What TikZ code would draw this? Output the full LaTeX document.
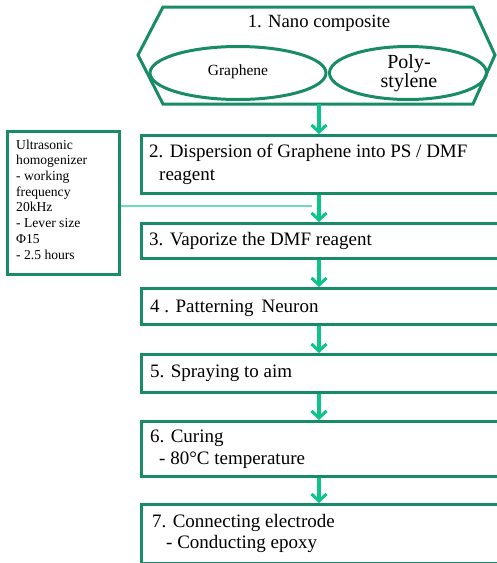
\documentclass[tikz,border=0pt]{standalone}
\usepackage{fontspec}
\setmainfont{Liberation Serif}
\usetikzlibrary{arrows.meta,shapes.geometric}
\definecolor{boxgreen}{RGB}{24,140,102}
\definecolor{arrowgreen}{RGB}{10,196,140}
\definecolor{linegreen}{RGB}{110,220,185}
\begin{document}
\begin{tikzpicture}[x=1pt,y=-1pt,
  box/.style={draw=boxgreen, line width=3pt, rectangle, inner sep=0pt, anchor=north west, minimum width=385},
  oval/.style={draw=boxgreen, line width=3pt, ellipse, inner sep=0pt},
  flow/.style={draw=arrowgreen, line width=3.5pt, -{Straight Barb[length=7pt,width=15pt,line width=3pt]}},
  maintext/.style={anchor=base west, inner sep=0pt, font=\fontsize{19}{22}\selectfont},
  sidetext/.style={anchor=base west, inner sep=0pt, align=left, font=\fontsize{13.6}{15.7}\selectfont}]
\useasboundingbox (0,0) rectangle (496,563);

% hexagon
\coordinate (h1) at (163,7);
\coordinate (h2) at (473,7);
\coordinate (h3) at (495,55);
\coordinate (h4) at (473,104);
\coordinate (h5) at (163,104);
\coordinate (h6) at (138,55);
\coordinate (hexbot) at (319,104);
\draw[boxgreen, line width=3pt, line join=miter] (h1) -- (h2) -- (h3) -- (h4) -- (h5) -- (h6) -- cycle;
\node[anchor=base, inner sep=0pt, font=\fontsize{18.7}{21}\selectfont] (t1) at (319,27) {1. Nano composite};
\node[oval, minimum width=176, minimum height=53] (e1) at (238,73) {};
\node[font=\fontsize{15.5}{17}\selectfont, inner sep=0pt] (g) at (238,72) {Graphene};
\node[oval, minimum width=157, minimum height=53] (e2) at (408,73) {};
\node[font=\fontsize{20}{19}\selectfont, inner sep=0pt, align=center] (ps) at (409,73) {Poly-\\stylene};

% boxes
\node[box, minimum height=58] (b2) at (140,134) {};
\node[box, minimum height=35] (b3) at (140,222) {};
\node[box, minimum height=36] (b4) at (140,287) {};
\node[box, minimum height=38] (b5) at (140,353) {};
\node[box, minimum height=55] (b6) at (140,420) {};
\node[box, minimum height=59] (b7) at (140,503) {};

\node[maintext] (t2a) at (149,157) {2. Dispersion of Graphene into PS / DMF};
\node[maintext] (t2b) at (159,180) {reagent};
\node[maintext] (t3) at (149,245) {3. Vaporize the DMF reagent};
\node[maintext] (t4) at (150,312) {4 . Patterning\, Neuron};
\node[maintext] (t5) at (150,377) {5. Spraying to aim};
\node[maintext] (t6a) at (150,442) {6. Curing};
\node[maintext] (t6b) at (159,464) {- 80°C temperature};
\node[maintext] (t7a) at (152,527) {7. Connecting electrode};
\node[maintext] (t7b) at (166,548) {- Conducting epoxy};

% side box
\node[box, minimum width=112, minimum height=143] (side) at (6,130) {};
\node[sidetext] (st) at (16,259) {Ultrasonic\\homogenizer\\- working\\frequency\\20kHz\\- Lever size\\Φ15\\- 2.5 hours};

% connectors
\draw[flow] (hexbot) -- (hexbot |- b2.north);
\draw[flow] (b2.south -| hexbot) -- (b3.north -| hexbot);
\draw[flow] (b3.south -| hexbot) -- (b4.north -| hexbot);
\draw[flow] (b4.south -| hexbot) -- (b5.north -| hexbot);
\draw[flow] (b5.south -| hexbot) -- (b6.north -| hexbot);
\draw[flow] (b6.south -| hexbot) -- (b7.north -| hexbot);
\coordinate (lineend) at (312,206);
\draw[linegreen, line width=1.5pt] (side.east |- lineend) -- (lineend);
\end{tikzpicture}
\end{document}
